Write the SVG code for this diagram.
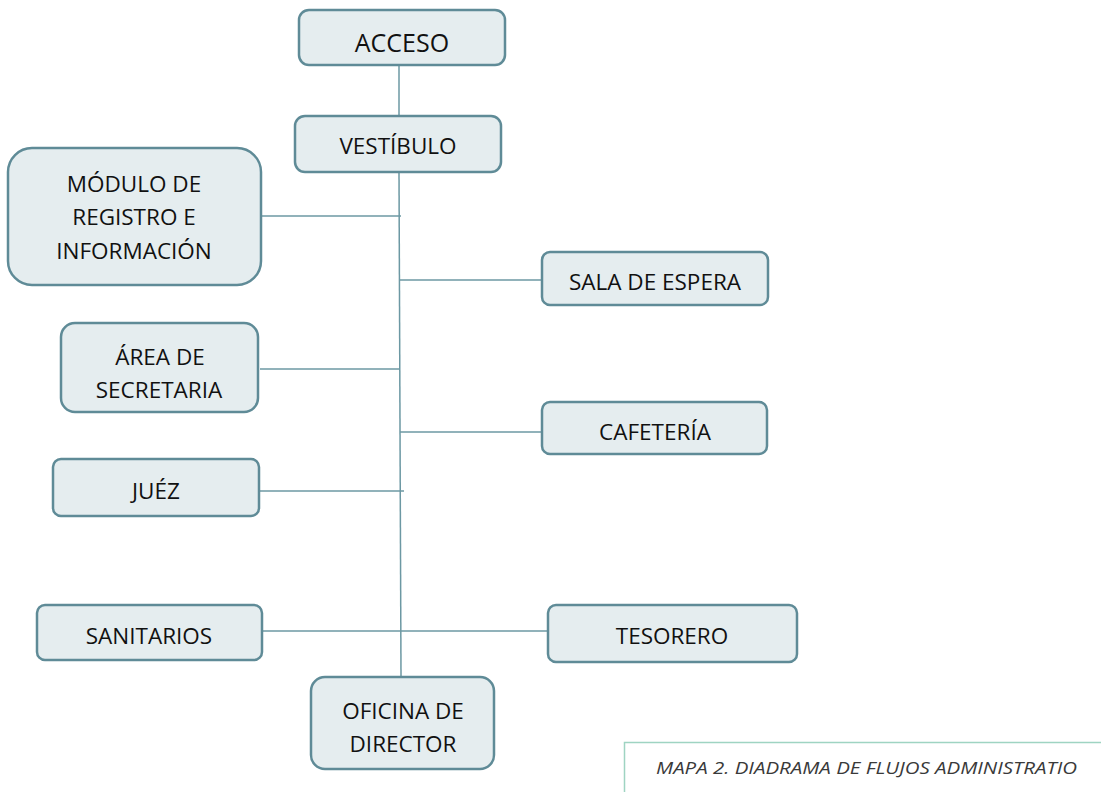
<svg xmlns="http://www.w3.org/2000/svg" width="1101" height="792" viewBox="0 0 1101 792">
<style>
.box{fill:#e5edef;stroke:#5f8b97;stroke-width:2.5}
.t{font-family:"Open Sans","Noto Sans",sans-serif;font-size:22.5px;fill:#111;text-anchor:middle}
.c{stroke:#6c98a3;stroke-width:1.5;fill:none}
.cap{font-family:"Open Sans","Noto Sans",sans-serif;font-style:italic;font-size:17px;fill:#3a3a3a}
</style>
<rect width="1101" height="792" fill="#fff"/>
<g id="connectors">
<line class="c" x1="399" y1="65" x2="399" y2="116"/>
<line class="c" x1="399" y1="172" x2="401" y2="677"/>
<line class="c" x1="262" y1="216" x2="401" y2="216"/>
<line class="c" x1="400" y1="280" x2="542" y2="280"/>
<line class="c" x1="260" y1="369" x2="400" y2="369"/>
<line class="c" x1="400" y1="432" x2="542" y2="432"/>
<line class="c" x1="260" y1="491" x2="404" y2="491"/>
<line class="c" x1="262" y1="631" x2="548" y2="631"/>
</g>
<g id="acceso"><rect class="box" x="299" y="10" width="206" height="55" rx="10"/><text class="t" x="402" y="52" style="font-size:25px">ACCESO</text></g>
<g id="vestibulo"><rect class="box" x="295" y="116" width="206" height="56" rx="10"/><text class="t" x="398" y="154">VESTÍBULO</text></g>
<g id="modulo"><rect class="box" x="8" y="148" width="253" height="137" rx="24"/><text class="t" x="134" y="192">MÓDULO DE</text><text class="t" x="134" y="225">REGISTRO E</text><text class="t" x="134" y="259">INFORMACIÓN</text></g>
<g id="sala"><rect class="box" x="542" y="252" width="226" height="53" rx="8"/><text class="t" x="655" y="290">SALA DE ESPERA</text></g>
<g id="secretaria"><rect class="box" x="61" y="323" width="197" height="89" rx="14"/><text class="t" x="160" y="365">ÁREA DE</text><text class="t" x="159" y="398">SECRETARIA</text></g>
<g id="cafeteria"><rect class="box" x="542" y="402" width="225" height="52" rx="8"/><text class="t" x="655" y="440">CAFETERÍA</text></g>
<g id="juez"><rect class="box" x="53" y="459" width="206" height="57" rx="8"/><text class="t" x="156" y="499">JUÉZ</text></g>
<g id="sanitarios"><rect class="box" x="37" y="605" width="225" height="55" rx="8"/><text class="t" x="149" y="644">SANITARIOS</text></g>
<g id="tesorero"><rect class="box" x="548" y="605" width="249" height="57" rx="8"/><text class="t" x="672" y="644">TESORERO</text></g>
<g id="oficina"><rect class="box" x="311" y="677" width="183" height="92" rx="14"/><text class="t" x="403" y="719">OFICINA DE</text><text class="t" x="403" y="752">DIRECTOR</text></g>
<g id="caption">
<path d="M624.5 792 V742.5 H1101" fill="none" stroke="#9fd4c2" stroke-width="1.5"/>
<text class="cap" x="656" y="774" textLength="421" lengthAdjust="spacingAndGlyphs">MAPA 2. DIADRAMA DE FLUJOS ADMINISTRATIO</text>
</g>
</svg>
